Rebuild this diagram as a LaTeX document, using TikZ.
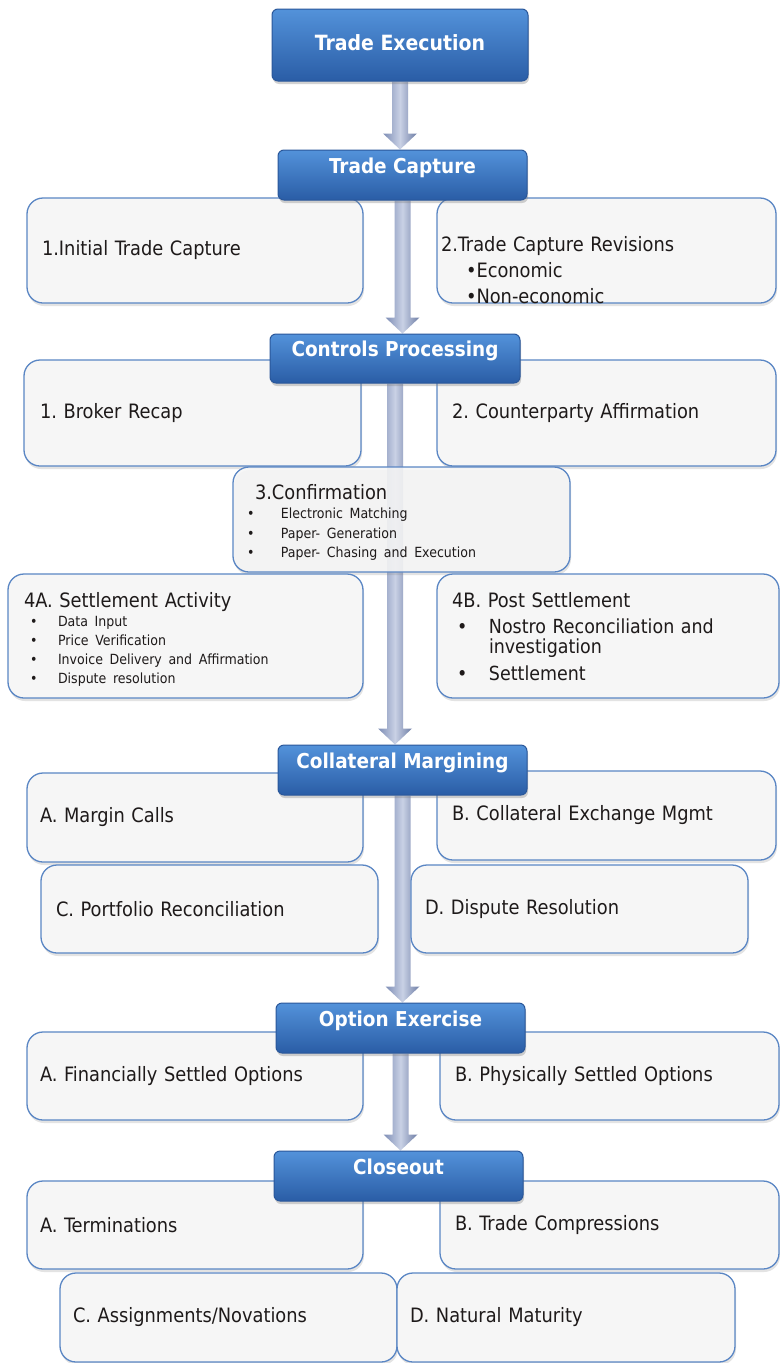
\documentclass[tikz,border=0pt]{standalone}
\usepackage{fontspec}
\setmainfont{DejaVu Sans Condensed}
\usetikzlibrary{shadows,calc}
\definecolor{hdtop}{HTML}{5392DA}
\definecolor{hdbot}{HTML}{2A5DA6}
\definecolor{hdline}{HTML}{2A579A}
\definecolor{boxline}{HTML}{5A86C4}
\definecolor{boxfill}{HTML}{F6F6F6}
\definecolor{txt}{HTML}{1E1A1A}
\definecolor{arrl}{HTML}{7D8DB5}
\definecolor{arrm}{HTML}{C9D1E5}
\definecolor{arrr}{HTML}{6D7DA5}
\pgfdeclarelayer{bglayer}
\pgfdeclarelayer{arrowlayer}
\pgfdeclarelayer{boxlayer}
\pgfsetlayers{bglayer,arrowlayer,boxlayer,main}
\newcommand\blockarrow[2]{%
  \path[arrowshade] let \p1=(#1.south), \p2=(#2.north) in
    (\x1-8pt,\y1) -- (\x1-8pt,\y2+16pt) -- (\x1-17pt,\y2+16pt) -- (\x1,\y2)
    -- (\x1+17pt,\y2+16pt) -- (\x1+8pt,\y2+16pt) -- (\x1+8pt,\y1) -- cycle;}
\newcommand\sbul[2]{\makebox[#1][l]{\textbullet}#2}
\begin{document}
\frenchspacing
\begin{tikzpicture}[x=1pt,y=-1pt,
  header/.style={draw=hdline, line width=1pt, rounded corners=6pt,
    top color=hdtop, bottom color=hdbot, text=white,
    font=\fontsize{20.5}{24}\selectfont\bfseries,
    minimum width=249pt, minimum height=50pt, text height=9pt, text depth=13pt,
    drop shadow={opacity=0.35,shadow xshift=1pt,shadow yshift=-3pt}},
  sub/.style={draw=boxline, line width=1.3pt, fill=boxfill, rounded corners=16pt,
    text=txt, align=left, font=\fontsize{19.8}{23}\selectfont, inner ysep=0pt,
    drop shadow={opacity=0.22,shadow xshift=1pt,shadow yshift=-3pt}},
  arrowshade/.style={left color=arrl, right color=arrr, middle color=arrm}]
\begin{pgfonlayer}{bglayer}
\useasboundingbox[fill=white] (0,0) rectangle (779,1363);
\end{pgfonlayer}

% ---------- headers ----------
\node[header, minimum width=256pt, minimum height=72pt, text height=14pt, text depth=4pt,
  font=\fontsize{21}{25}\selectfont\bfseries] (te) at (400,45) {Trade Execution};
\node[header] (tc) at (402.5,175) {Trade Capture};
\node[header, minimum width=250pt, minimum height=49pt] (cp) at (395,358.5) {Controls Processing};
\node[header] (cm) at (402.5,770) {Collateral Margining};
\node[header] (oe) at (400.5,1028) {Option Exercise};
\node[header] (co) at (398.5,1176) {Closeout};

% ---------- sub boxes ----------
\begin{pgfonlayer}{boxlayer}
\node[sub, text width=306pt, inner xsep=15pt, minimum height=105pt] (itc) at (195,250.5) {1.Initial Trade Capture};
\node[sub, text width=331pt, inner xsep=4pt, minimum height=105pt, text height=50.5pt, text depth=49.5pt,
  font=\fontsize{19.8}{26}\selectfont] (tcr) at (606.5,250.5)
  {2.Trade Capture Revisions\\ \hspace*{25pt}\textbullet Economic\\ \hspace*{25pt}\textbullet Non-economic};

\node[sub, text width=305pt, inner xsep=16pt, minimum height=106pt] (br) at (192.5,413) {1. Broker Recap};
\node[sub, text width=309pt, inner xsep=15pt, minimum height=106pt] (ca) at (606.5,413) {2. Counterparty Affirmation};

\node[sub, fill opacity=0.88, text opacity=1, text width=309pt, inner xsep=14pt, minimum height=105pt,
  text height=29.5pt, text depth=70.5pt] (conf) at (401.5,519.5)
  {\hspace*{8pt}3.Confirmation\\
   {\fontsize{14}{19.5}\selectfont\sbul{34pt}{Electronic Matching}\\
   \sbul{34pt}{Paper- Generation}\\
   \sbul{34pt}{Paper- Chasing and Execution}\par}};

\node[sub, text width=323pt, inner xsep=16pt, minimum height=124pt,
  text height=31.5pt, text depth=88.5pt] (sa) at (185.5,636)
  {4A. Settlement Activity\\
   {\fontsize{14}{19}\selectfont\hspace*{6pt}\sbul{28pt}{Data Input}\\
   \hspace*{6pt}\sbul{28pt}{Price Verification}\\
   \hspace*{6pt}\sbul{28pt}{Invoice Delivery and Affirmation}\\
   \hspace*{6pt}\sbul{28pt}{Dispute resolution}\par}};

\node[sub, text width=312pt, inner xsep=15pt, minimum height=124pt,
  text height=31.5pt, text depth=88.5pt] (ps) at (608,636)
  {4B. Post Settlement\\[6.5pt]
   {\fontsize{19.4}{19.5}\selectfont\hspace*{5pt}\sbul{32pt}{Nostro Reconciliation and}\\
   \hspace*{37pt}investigation\\[7.5pt]
   \hspace*{5pt}\sbul{32pt}{Settlement}\par}};

\node[sub, text width=310pt, inner xsep=13pt, minimum height=89pt] (mc) at (195,817.5) {A. Margin Calls};
\node[sub, text width=309pt, inner xsep=15pt, minimum height=89pt] (cem) at (606.5,815.5) {B. Collateral Exchange Mgmt};
\node[sub, text width=307pt, inner xsep=15pt, minimum height=88pt] (pr) at (209.5,909) {C. Portfolio Reconciliation};
\node[sub, text width=309pt, inner xsep=14pt, minimum height=88pt] (dr) at (579.5,909) {D. Dispute Resolution};

\node[sub, text width=310pt, inner xsep=13pt, minimum height=88pt] (fso) at (195,1076) {A. Financially Settled Options};
\node[sub, text width=309pt, inner xsep=15pt, minimum height=88pt] (pso) at (609.5,1076) {B. Physically Settled Options};

\node[sub, text width=310pt, inner xsep=13pt, minimum height=88pt] (ter) at (195,1225) {A. Terminations};
\node[sub, text width=309pt, inner xsep=15pt, minimum height=88pt] (tcm) at (609.5,1225) {B. Trade Compressions};
\node[sub, text width=311pt, inner xsep=13pt, minimum height=89pt] (an) at (228.5,1317.5) {C. Assignments/Novations};
\node[sub, text width=312pt, inner xsep=13pt, minimum height=89pt] (nm) at (566,1317.5) {D. Natural Maturity};
\end{pgfonlayer}

% ---------- arrows ----------
\begin{pgfonlayer}{arrowlayer}
\blockarrow{te}{tc}
\blockarrow{tc}{cp}
\blockarrow{cp}{cm}
\blockarrow{cm}{oe}
\blockarrow{oe}{co}
\end{pgfonlayer}
\end{tikzpicture}
\end{document}
